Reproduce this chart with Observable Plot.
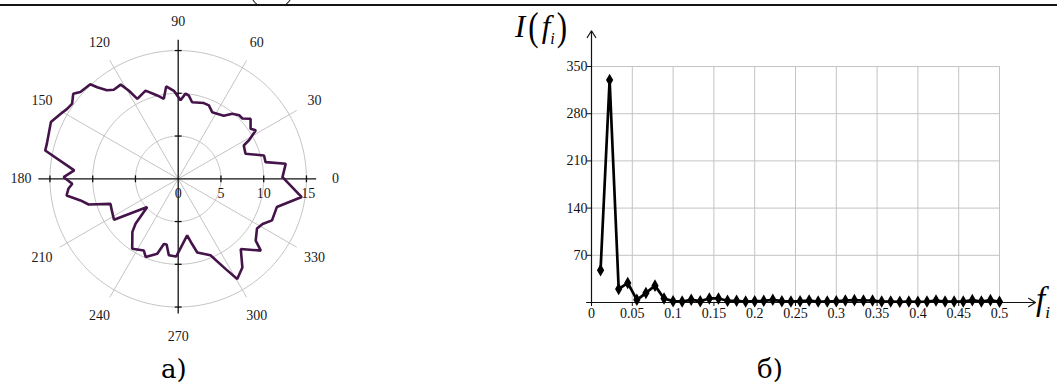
<!DOCTYPE html>
<html><head><meta charset="utf-8">
<script src="https://cdn.jsdelivr.net/npm/d3@7"></script>
<script src="https://cdn.jsdelivr.net/npm/@observablehq/plot@0.6"></script>
<style>
html,body{margin:0;padding:0;background:#fff;}
body{width:1057px;height:385px;position:relative;overflow:hidden;font-family:"Liberation Serif",serif;color:#000;}
.abs{position:absolute;}
#topline{left:0;top:4px;width:1057px;height:2px;background:#151515;}
.cap{font-family:"DejaVu Serif",serif;font-size:26px;line-height:30px;}
.math{font-family:"Liberation Serif",serif;font-style:italic;white-space:nowrap;}
.paren{font-style:normal;display:inline-block;transform:scaleY(1.3);}
.clip{position:absolute;top:0;height:6px;overflow:hidden;}
.ell{position:absolute;width:34px;height:70px;border:1.6px solid #151515;border-radius:50%;top:-65px;}
#polar svg text, #spec svg text{font-family:"Liberation Serif",serif !important;}
</style></head><body>
<div class="clip" style="left:243px;width:14px;"><div class="ell" style="left:2px;"></div></div>
<div class="clip" style="left:286px;width:14px;"><div class="ell" style="left:-24px;"></div></div>
<div class="abs" id="topline"></div>
<div class="abs" id="polar" style="left:0;top:0"></div>
<div class="abs" id="spec" style="left:500px;top:0"></div>
<div class="abs cap" style="left:161px;top:354px;">а)</div>
<div class="abs cap" style="left:757px;top:354px;">б)</div>
<div class="abs math" style="left:515px;top:11px;font-size:31px;line-height:32px;">I<span class="paren" style="margin-left:3px;margin-right:3px;">(</span>f<sub style="font-size:16px;">i</sub><span class="paren" style="margin-left:2px;">)</span></div>
<div class="abs math" style="left:1036px;top:283px;font-size:33px;line-height:32px;">f<sub style="font-size:17px;">i</sub></div>
<script>
// ---------- polar chart data (angle in degrees, radius) ----------
const polarAngle = [0.9, 8, 10.8, 15.2, 20.4, 26.9, 28.5, 32, 34.7, 39.7, 43.2, 46.2, 50.3, 54.2, 63, 67.3, 71.3, 79.7, 82.7, 85.1, 88.3, 92.8, 97.4, 100.2, 104.1, 110.3, 117.1, 119.2, 121.4, 125.9, 128.8, 131.5, 132.9, 138.4, 141, 144.7, 147.8, 151, 156, 165, 168, 175.4, 179.2, 182.7, 185.2, 188.5, 192.5, 196, 200.3, 206.8, 212.5, 222.4, 226.5, 229.2, 236.7, 244.4, 247.4, 254.4, 257.6, 260, 263, 268.5, 279, 282, 284.5, 292.9, 297.7, 300.5, 305.9, 311.7, 319, 321.4, 327.7, 331.8, 336.1, 344, 351.6];
const polarRadius = [12.2, 12.7, 10.4, 10.4, 8.4, 8.6, 9.4, 10.7, 10.3, 11.0, 10.3, 10.3, 9.9, 9.1, 8.75, 9.3, 9.35, 9.1, 9.8, 10.0, 9.2, 10.3, 10.9, 9.5, 10.05, 11.0, 10.5, 11.8, 12.9, 12.85, 13.3, 14.3, 15.1, 15.3, 15.8, 15.2, 15.35, 15.7, 16.3, 15.9, 15.9, 12.2, 13.4, 12.4, 12.9, 13.2, 11.7, 10.9, 8.45, 8.65, 8.9, 4.9, 7.25, 8.2, 9.8, 9.3, 9.9, 9.1, 7.8, 7.8, 9.0, 9.1, 6.7, 7.8, 8.9, 9.7, 11.9, 13.6, 12.8, 11.0, 12.8, 11.6, 10.9, 11.2, 12.0, 12.0, 14.6];
const ringValues = [5, 10, 15];
const spokeAngles = [30, 60, 120, 150, 210, 240, 300, 330];
const angleLabels = [0, 30, 60, 90, 120, 150, 180, 210, 240, 270, 300, 330];
const radialLabels = [0, 5, 10, 15];
const axisTicks = [-15, -10, -5, 5, 10, 15];

// ---------- spectrum data ----------
const freq = [0.0111, 0.0222, 0.0333, 0.0444, 0.0556, 0.0667, 0.0778, 0.0889, 0.1, 0.1111, 0.1222, 0.1333, 0.1444, 0.1556, 0.1667, 0.1778, 0.1889, 0.2, 0.2111, 0.2222, 0.2333, 0.2444, 0.2556, 0.2667, 0.2778, 0.2889, 0.3, 0.3111, 0.3222, 0.3333, 0.3444, 0.3556, 0.3667, 0.3778, 0.3889, 0.4, 0.4111, 0.4222, 0.4333, 0.4444, 0.4556, 0.4667, 0.4778, 0.4889, 0.5];
const intensity = [48, 330, 20, 29, 4, 14, 25, 6, 2, 1.5, 4, 2, 6, 6, 2.5, 2.5, 1.5, 2, 2.5, 4, 2, 1.5, 2, 3, 1.5, 1.5, 2, 3, 3.5, 3, 3, 1.5, 1.5, 1, 1.5, 1, 1.5, 3, 1.5, 1.5, 1.5, 3.5, 1.5, 3.5, 1];
const xTicks = [0, 0.05, 0.1, 0.15, 0.2, 0.25, 0.3, 0.35, 0.4, 0.45, 0.5];
const yTicks = [70, 140, 210, 280, 350];

const FONT = "Liberation Serif";

// ---------- polar chart ----------
const S = 8.55, CX = 177.7, CY = 178.3, PW = 360, PH = 350;
const rad = d => d * Math.PI / 180;
const curve = polarAngle.map((a, i) => ({x: polarRadius[i] * Math.cos(rad(a)), y: polarRadius[i] * Math.sin(rad(a))}));
curve.push(curve[0]);
const rings = ringValues.flatMap(r => d3.range(0, 361, 2).map(a => ({r, x: r * Math.cos(rad(a)), y: r * Math.sin(rad(a))})));

const polar = Plot.plot({
  width: PW, height: PH, margin: 0,
  x: {domain: [-CX / S, (PW - CX) / S], axis: null},
  y: {domain: [-(PH - CY) / S, CY / S], axis: null},
  style: {fontFamily: FONT, background: "transparent", color: "#111", overflow: "visible"},
  marks: [
    Plot.line(rings, {x: "x", y: "y", z: "r", stroke: "#c4c4c4", strokeWidth: 1}),
    Plot.link(spokeAngles, {x1: 0, y1: 0, x2: a => 16 * Math.cos(rad(a)), y2: a => 16 * Math.sin(rad(a)), stroke: "#c4c4c4", strokeWidth: 1}),
    Plot.ruleY([0], {x1: -16.3, x2: 16.2, stroke: "#111", strokeWidth: 1.3}),
    Plot.ruleX([0], {y1: -15.8, y2: 16.2, stroke: "#111", strokeWidth: 1.3}),
    Plot.link(axisTicks, {x1: d => d, x2: d => d, y1: -0.4, y2: 0.4, stroke: "#111", strokeWidth: 1.3}),
    Plot.link(axisTicks, {y1: d => d, y2: d => d, x1: -0.4, x2: 0.4, stroke: "#111", strokeWidth: 1.3}),
    Plot.line(curve, {x: "x", y: "y", stroke: "#431349", strokeWidth: 2.6, curve: "linear", strokeLinejoin: "miter"}),
    Plot.text(angleLabels, {x: a => 18.4 * Math.cos(rad(a)), y: a => 18.4 * Math.sin(rad(a)), text: d => String(d), fontSize: 14, fontFamily: FONT, fill: "#1a1a1a"}),
    Plot.text(radialLabels, {x: d => d + (d === 15 ? 0.2 : 0), y: 0, dy: 15, text: d => String(d), fontSize: 14, fontFamily: FONT, fill: "#1a1a1a"})
  ]
});
document.getElementById("polar").append(polar);

// ---------- spectrum chart ----------
const spec = freq.map((f, i) => ({f, I: intensity[i]}));
const spectrum = Plot.plot({
  width: 557, height: 345,
  marginLeft: 91, marginRight: 58, marginTop: 66, marginBottom: 43,
  x: {domain: [0, 0.5]},
  y: {domain: [0, 350]},
  style: {fontFamily: FONT, fontSize: "14px", color: "#111", background: "transparent", overflow: "visible"},
  marks: [
    Plot.ruleX(xTicks.slice(1), {stroke: "#c4c4c4", strokeWidth: 1}),
    Plot.ruleY(yTicks, {stroke: "#c4c4c4", strokeWidth: 1}),
    Plot.axisX({ticks: xTicks, tickSize: 4, tickPadding: 2, label: null, tickFormat: d => String(d), fontSize: 14, fontFamily: FONT, fill: "#111"}),
    Plot.axisY({ticks: yTicks, tickSize: 4, tickPadding: 0, label: null, tickFormat: d => String(d), fontSize: 14, fontFamily: FONT, fill: "#111"}),
    Plot.arrow([0], {x1: -0.006, x2: 0.544, y1: 0, y2: 0, headLength: 10, headAngle: 64, stroke: "#111", strokeWidth: 1.2}),
    Plot.arrow([0], {x1: 0, x2: 0, y1: -1.5, y2: 403, headLength: 10, headAngle: 64, stroke: "#111", strokeWidth: 1.2}),
    Plot.line(spec, {x: "f", y: "I", stroke: "#000", strokeWidth: 2.7}),
    Plot.dot(spec, {x: "f", y: "I", symbol: "diamond", fill: "#000", r: 3.8})
  ]
});
document.getElementById("spec").append(spectrum);
</script>
</body></html>
